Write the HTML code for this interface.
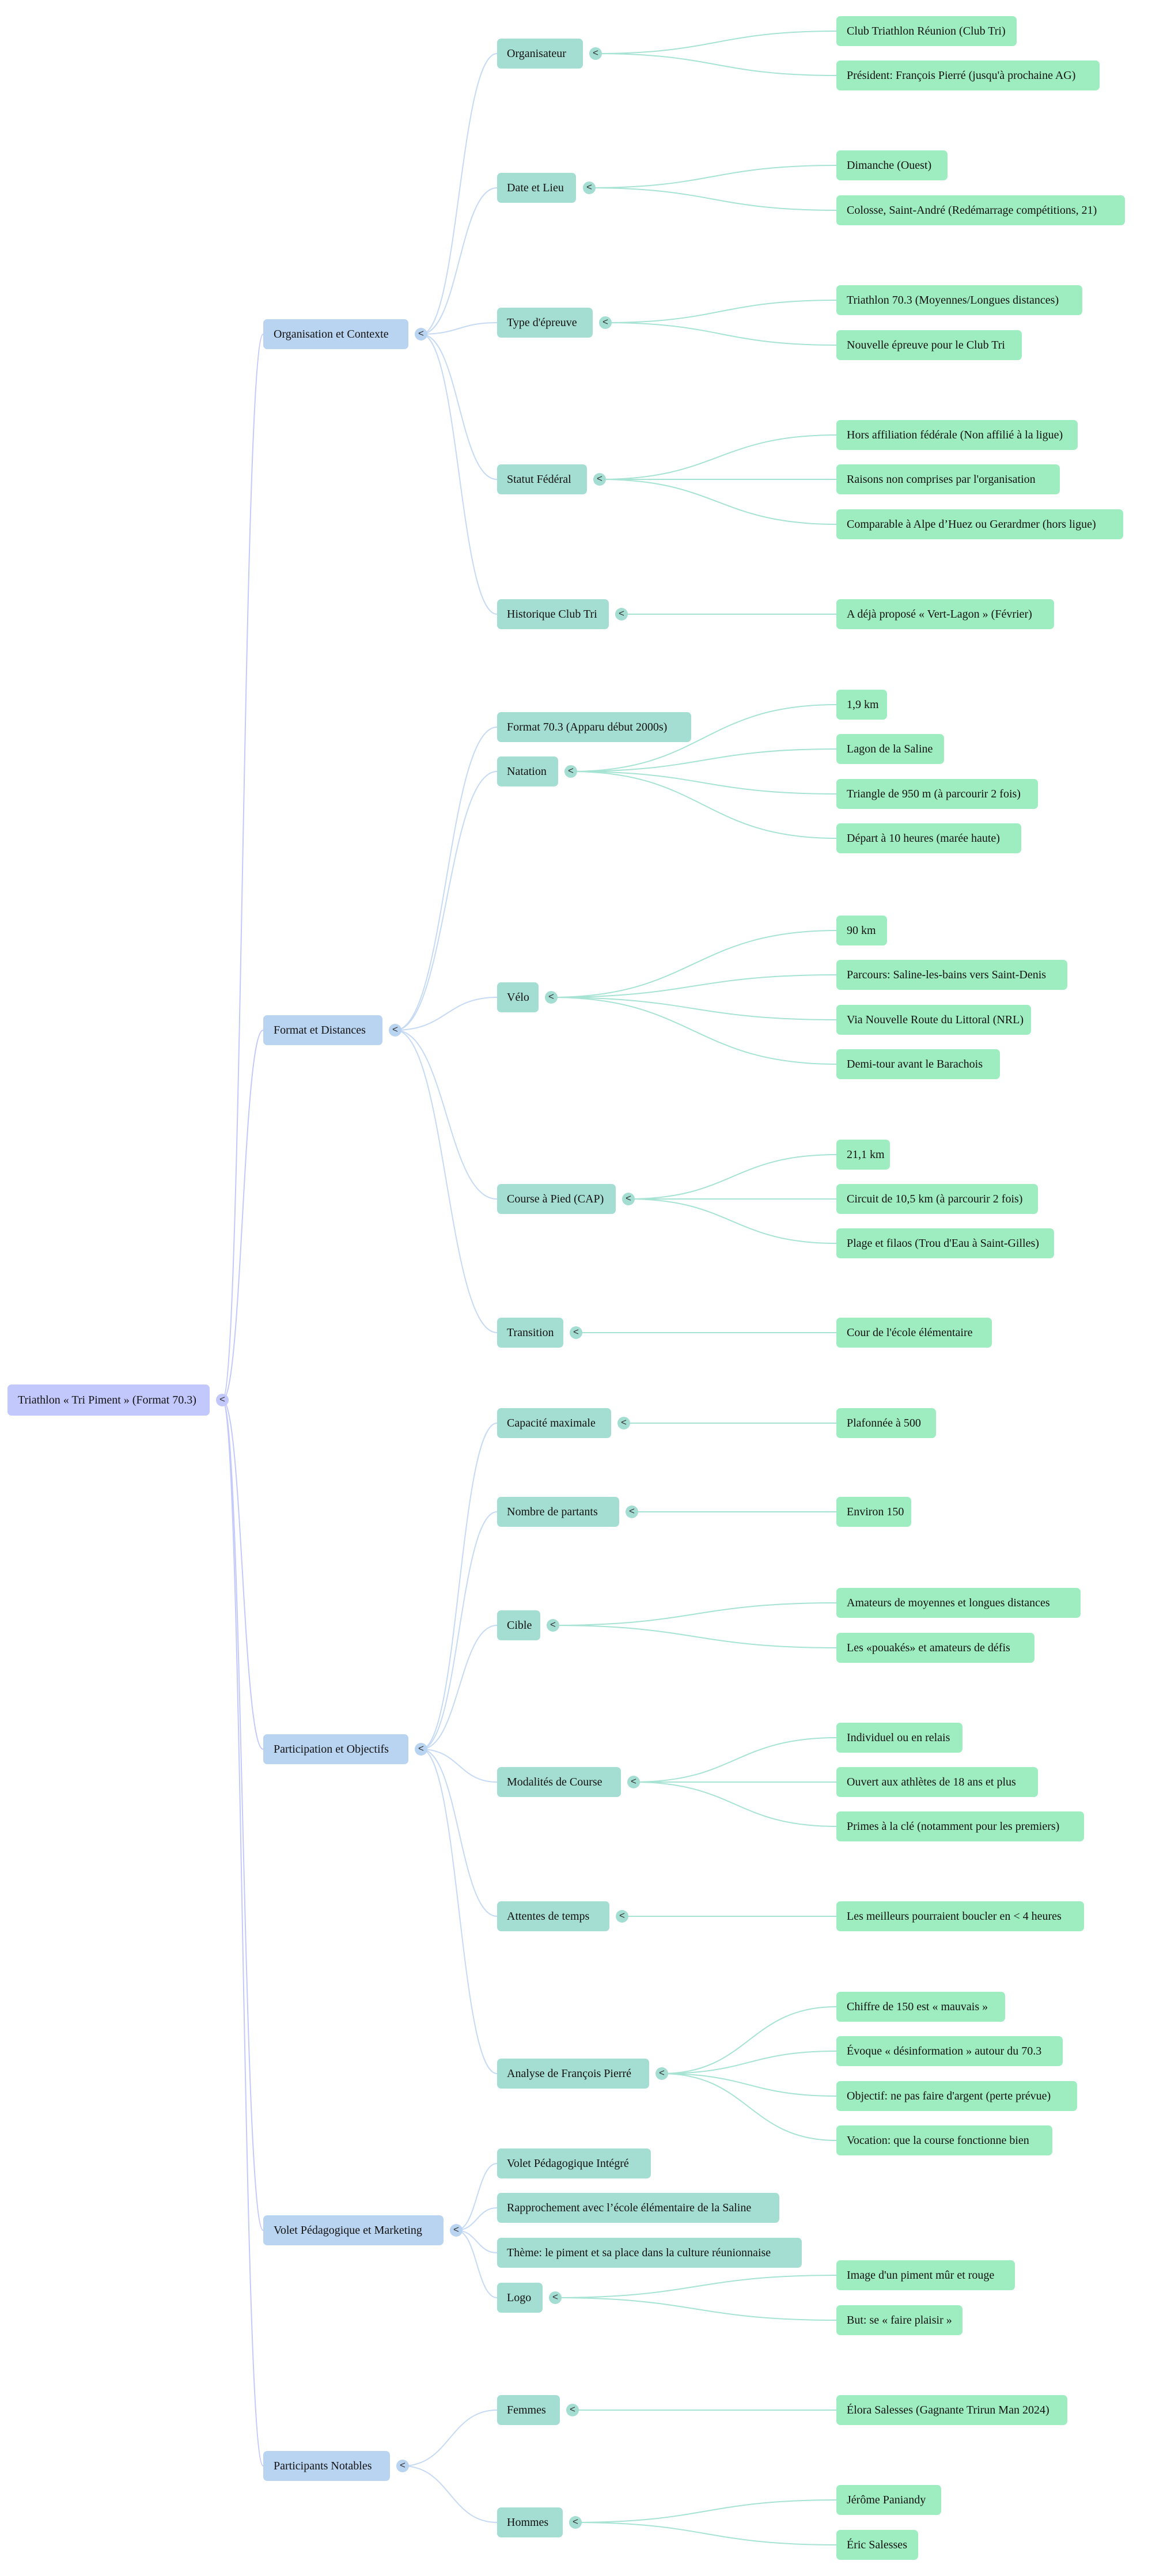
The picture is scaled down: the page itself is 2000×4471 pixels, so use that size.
<!DOCTYPE html>
<html><head><meta charset="utf-8">
<style>
html,body{margin:0;padding:0;background:#fff;}
body{width:2000px;height:4471px;position:relative;overflow:hidden;font-family:"Liberation Serif",serif;font-size:20px;color:#111;}
.n{position:absolute;height:52px;line-height:52px;padding-left:17px;box-sizing:border-box;border-radius:7px;white-space:nowrap;}
.r{background:#c3c8fc;height:54px;line-height:54px;padding-left:18px;}
.a{background:#b9d4f1;padding-left:18px;}
.b{background:#a4ded2;}
.c{background:#9eedc0;padding-left:18px;}
.t{position:absolute;width:22px;height:22px;border-radius:11px;text-align:center;line-height:20px;font-family:"Liberation Sans",sans-serif;font-size:17px;color:#333;}
.tr{background:#c3c8fc;}.ta{background:#b9d4f1;}.tb{background:#a4ded2;}
svg{position:absolute;left:0;top:0;}
</style></head><body>
<svg width="2000" height="4471" fill="none">
<g stroke="#c3c9fa" stroke-width="2">
<path d="M386 2430 C421 2430 421 580 457 580"/>
<path d="M386 2430 C421 2430 421 1788 457 1788"/>
<path d="M386 2430 C421 2430 421 3036 457 3036"/>
<path d="M386 2430 C421 2430 421 3871 457 3871"/>
<path d="M386 2430 C421 2430 421 4280 457 4280"/>
</g>
<g stroke="#c6daf4" stroke-width="2">
<path d="M731 580 C797 580 797 93 863 93"/>
<path d="M731 580 C797 580 797 326 863 326"/>
<path d="M731 580 C797 580 797 560 863 560"/>
<path d="M731 580 C797 580 797 832 863 832"/>
<path d="M731 580 C797 580 797 1066 863 1066"/>
<path d="M686 1788 C775 1788 775 1262 863 1262"/>
<path d="M686 1788 C775 1788 775 1339 863 1339"/>
<path d="M686 1788 C775 1788 775 1731 863 1731"/>
<path d="M686 1788 C775 1788 775 2081 863 2081"/>
<path d="M686 1788 C775 1788 775 2313 863 2313"/>
<path d="M731 3036 C797 3036 797 2470 863 2470"/>
<path d="M731 3036 C797 3036 797 2624 863 2624"/>
<path d="M731 3036 C797 3036 797 2821 863 2821"/>
<path d="M731 3036 C797 3036 797 3093 863 3093"/>
<path d="M731 3036 C797 3036 797 3326 863 3326"/>
<path d="M731 3036 C797 3036 797 3599 863 3599"/>
<path d="M792 3871 C828 3871 828 3755 863 3755"/>
<path d="M792 3871 C828 3871 828 3832 863 3832"/>
<path d="M792 3871 C828 3871 828 3910 863 3910"/>
<path d="M792 3871 C828 3871 828 3988 863 3988"/>
<path d="M699 4280 C781 4280 781 4183 863 4183"/>
<path d="M699 4280 C781 4280 781 4378 863 4378"/>
</g>
<g stroke="#a6e3d3" stroke-width="2">
<path d="M1034 93 C1243 93 1243 54 1452 54"/>
<path d="M1034 93 C1243 93 1243 131 1452 131"/>
<path d="M1023 326 C1237 326 1237 287 1452 287"/>
<path d="M1023 326 C1237 326 1237 365 1452 365"/>
<path d="M1051 560 C1251 560 1251 521 1452 521"/>
<path d="M1051 560 C1251 560 1251 599 1452 599"/>
<path d="M1041 832 C1246 832 1246 755 1452 755"/>
<path d="M1041 832 L1452 832"/>
<path d="M1041 832 C1246 832 1246 910 1452 910"/>
<path d="M1079 1066 L1452 1066"/>
<path d="M991 1339 C1221 1339 1221 1223 1452 1223"/>
<path d="M991 1339 C1221 1339 1221 1300 1452 1300"/>
<path d="M991 1339 C1221 1339 1221 1378 1452 1378"/>
<path d="M991 1339 C1221 1339 1221 1455 1452 1455"/>
<path d="M957 1731 C1204 1731 1204 1615 1452 1615"/>
<path d="M957 1731 C1204 1731 1204 1692 1452 1692"/>
<path d="M957 1731 C1204 1731 1204 1770 1452 1770"/>
<path d="M957 1731 C1204 1731 1204 1847 1452 1847"/>
<path d="M1091 2081 C1271 2081 1271 2004 1452 2004"/>
<path d="M1091 2081 L1452 2081"/>
<path d="M1091 2081 C1271 2081 1271 2158 1452 2158"/>
<path d="M1000 2313 L1452 2313"/>
<path d="M1083 2470 L1452 2470"/>
<path d="M1097 2624 L1452 2624"/>
<path d="M960 2821 C1206 2821 1206 2782 1452 2782"/>
<path d="M960 2821 C1206 2821 1206 2860 1452 2860"/>
<path d="M1100 3093 C1276 3093 1276 3016 1452 3016"/>
<path d="M1100 3093 L1452 3093"/>
<path d="M1100 3093 C1276 3093 1276 3170 1452 3170"/>
<path d="M1080 3326 L1452 3326"/>
<path d="M1149 3599 C1300 3599 1300 3483 1452 3483"/>
<path d="M1149 3599 C1300 3599 1300 3560 1452 3560"/>
<path d="M1149 3599 C1300 3599 1300 3638 1452 3638"/>
<path d="M1149 3599 C1300 3599 1300 3715 1452 3715"/>
<path d="M964 3988 C1208 3988 1208 3949 1452 3949"/>
<path d="M964 3988 C1208 3988 1208 4027 1452 4027"/>
<path d="M994 4183 L1452 4183"/>
<path d="M999 4378 C1225 4378 1225 4339 1452 4339"/>
<path d="M999 4378 C1225 4378 1225 4417 1452 4417"/>
</g>
</svg>

<div class="n r" style="left:13px;top:2403px;width:351px">Triathlon « Tri Piment » (Format 70.3)</div>
<div class="t tr" style="left:375px;top:2419px">&lt;</div>

<div class="n a" style="left:457px;top:554px;width:252px">Organisation et Contexte</div>
<div class="t ta" style="left:720px;top:569px">&lt;</div>
<div class="n a" style="left:457px;top:1762px;width:207px">Format et Distances</div>
<div class="t ta" style="left:675px;top:1777px">&lt;</div>
<div class="n a" style="left:457px;top:3010px;width:252px">Participation et Objectifs</div>
<div class="t ta" style="left:720px;top:3025px">&lt;</div>
<div class="n a" style="left:457px;top:3845px;width:313px">Volet Pédagogique et Marketing</div>
<div class="t ta" style="left:781px;top:3860px">&lt;</div>
<div class="n a" style="left:457px;top:4254px;width:220px">Participants Notables</div>
<div class="t ta" style="left:688px;top:4269px">&lt;</div>

<div class="n b" style="left:863px;top:67px;width:149px">Organisateur</div><div class="t tb" style="left:1023px;top:82px">&lt;</div>
<div class="n b" style="left:863px;top:300px;width:137px">Date et Lieu</div><div class="t tb" style="left:1012px;top:315px">&lt;</div>
<div class="n b" style="left:863px;top:534px;width:166px">Type d'épreuve</div><div class="t tb" style="left:1040px;top:549px">&lt;</div>
<div class="n b" style="left:863px;top:806px;width:156px">Statut Fédéral</div><div class="t tb" style="left:1030px;top:821px">&lt;</div>
<div class="n b" style="left:863px;top:1040px;width:194px">Historique Club Tri</div><div class="t tb" style="left:1068px;top:1055px">&lt;</div>
<div class="n b" style="left:863px;top:1236px;width:337px">Format 70.3 (Apparu début 2000s)</div>
<div class="n b" style="left:863px;top:1313px;width:106px">Natation</div><div class="t tb" style="left:980px;top:1328px">&lt;</div>
<div class="n b" style="left:863px;top:1705px;width:72px">Vélo</div><div class="t tb" style="left:946px;top:1720px">&lt;</div>
<div class="n b" style="left:863px;top:2055px;width:206px">Course à Pied (CAP)</div><div class="t tb" style="left:1080px;top:2070px">&lt;</div>
<div class="n b" style="left:863px;top:2287px;width:115px">Transition</div><div class="t tb" style="left:989px;top:2302px">&lt;</div>
<div class="n b" style="left:863px;top:2444px;width:198px">Capacité maximale</div><div class="t tb" style="left:1072px;top:2459px">&lt;</div>
<div class="n b" style="left:863px;top:2598px;width:212px">Nombre de partants</div><div class="t tb" style="left:1086px;top:2613px">&lt;</div>
<div class="n b" style="left:863px;top:2795px;width:75px">Cible</div><div class="t tb" style="left:949px;top:2810px">&lt;</div>
<div class="n b" style="left:863px;top:3067px;width:215px">Modalités de Course</div><div class="t tb" style="left:1089px;top:3082px">&lt;</div>
<div class="n b" style="left:863px;top:3300px;width:195px">Attentes de temps</div><div class="t tb" style="left:1069px;top:3315px">&lt;</div>
<div class="n b" style="left:863px;top:3573px;width:264px">Analyse de François Pierré</div><div class="t tb" style="left:1138px;top:3588px">&lt;</div>
<div class="n b" style="left:863px;top:3729px;width:267px">Volet Pédagogique Intégré</div>
<div class="n b" style="left:863px;top:3806px;width:490px">Rapprochement avec l’école élémentaire de la Saline</div>
<div class="n b" style="left:863px;top:3884px;width:529px">Thème: le piment et sa place dans la culture réunionnaise</div>
<div class="n b" style="left:863px;top:3962px;width:79px">Logo</div><div class="t tb" style="left:953px;top:3977px">&lt;</div>
<div class="n b" style="left:863px;top:4157px;width:109px">Femmes</div><div class="t tb" style="left:983px;top:4172px">&lt;</div>
<div class="n b" style="left:863px;top:4352px;width:114px">Hommes</div><div class="t tb" style="left:988px;top:4367px">&lt;</div>

<div class="n c" style="left:1452px;top:28px;width:313px">Club Triathlon Réunion (Club Tri)</div>
<div class="n c" style="left:1452px;top:105px;width:457px">Président: François Pierré (jusqu'à prochaine AG)</div>
<div class="n c" style="left:1452px;top:261px;width:193px">Dimanche (Ouest)</div>
<div class="n c" style="left:1452px;top:339px;width:501px">Colosse, Saint-André (Redémarrage compétitions, 21)</div>
<div class="n c" style="left:1452px;top:495px;width:427px">Triathlon 70.3 (Moyennes/Longues distances)</div>
<div class="n c" style="left:1452px;top:573px;width:322px">Nouvelle épreuve pour le Club Tri</div>
<div class="n c" style="left:1452px;top:729px;width:419px">Hors affiliation fédérale (Non affilié à la ligue)</div>
<div class="n c" style="left:1452px;top:806px;width:388px">Raisons non comprises par l'organisation</div>
<div class="n c" style="left:1452px;top:884px;width:498px">Comparable à Alpe d’Huez ou Gerardmer (hors ligue)</div>
<div class="n c" style="left:1452px;top:1040px;width:378px">A déjà proposé « Vert-Lagon » (Février)</div>
<div class="n c" style="left:1452px;top:1197px;width:88px">1,9 km</div>
<div class="n c" style="left:1452px;top:1274px;width:187px">Lagon de la Saline</div>
<div class="n c" style="left:1452px;top:1352px;width:350px">Triangle de 950 m (à parcourir 2 fois)</div>
<div class="n c" style="left:1452px;top:1429px;width:321px">Départ à 10 heures (marée haute)</div>
<div class="n c" style="left:1452px;top:1589px;width:88px">90 km</div>
<div class="n c" style="left:1452px;top:1666px;width:401px">Parcours: Saline-les-bains vers Saint-Denis</div>
<div class="n c" style="left:1452px;top:1744px;width:338px">Via Nouvelle Route du Littoral (NRL)</div>
<div class="n c" style="left:1452px;top:1821px;width:284px">Demi-tour avant le Barachois</div>
<div class="n c" style="left:1452px;top:1978px;width:93px">21,1 km</div>
<div class="n c" style="left:1452px;top:2055px;width:350px">Circuit de 10,5 km (à parcourir 2 fois)</div>
<div class="n c" style="left:1452px;top:2132px;width:378px">Plage et filaos (Trou d'Eau à Saint-Gilles)</div>
<div class="n c" style="left:1452px;top:2287px;width:270px">Cour de l'école élémentaire</div>
<div class="n c" style="left:1452px;top:2444px;width:173px">Plafonnée à 500</div>
<div class="n c" style="left:1452px;top:2598px;width:130px">Environ 150</div>
<div class="n c" style="left:1452px;top:2756px;width:424px">Amateurs de moyennes et longues distances</div>
<div class="n c" style="left:1452px;top:2834px;width:344px">Les «pouakés» et amateurs de défis</div>
<div class="n c" style="left:1452px;top:2990px;width:219px">Individuel ou en relais</div>
<div class="n c" style="left:1452px;top:3067px;width:350px">Ouvert aux athlètes de 18 ans et plus</div>
<div class="n c" style="left:1452px;top:3144px;width:430px">Primes à la clé (notamment pour les premiers)</div>
<div class="n c" style="left:1452px;top:3300px;width:430px">Les meilleurs pourraient boucler en &lt; 4 heures</div>
<div class="n c" style="left:1452px;top:3457px;width:293px">Chiffre de 150 est « mauvais »</div>
<div class="n c" style="left:1452px;top:3534px;width:393px">Évoque « désinformation » autour du 70.3</div>
<div class="n c" style="left:1452px;top:3612px;width:418px">Objectif: ne pas faire d'argent (perte prévue)</div>
<div class="n c" style="left:1452px;top:3689px;width:375px">Vocation: que la course fonctionne bien</div>
<div class="n c" style="left:1452px;top:3923px;width:310px">Image d'un piment mûr et rouge</div>
<div class="n c" style="left:1452px;top:4001px;width:219px">But: se « faire plaisir »</div>
<div class="n c" style="left:1452px;top:4157px;width:401px">Élora Salesses (Gagnante Trirun Man 2024)</div>
<div class="n c" style="left:1452px;top:4313px;width:182px">Jérôme Paniandy</div>
<div class="n c" style="left:1452px;top:4391px;width:142px">Éric Salesses</div>
</body></html>
